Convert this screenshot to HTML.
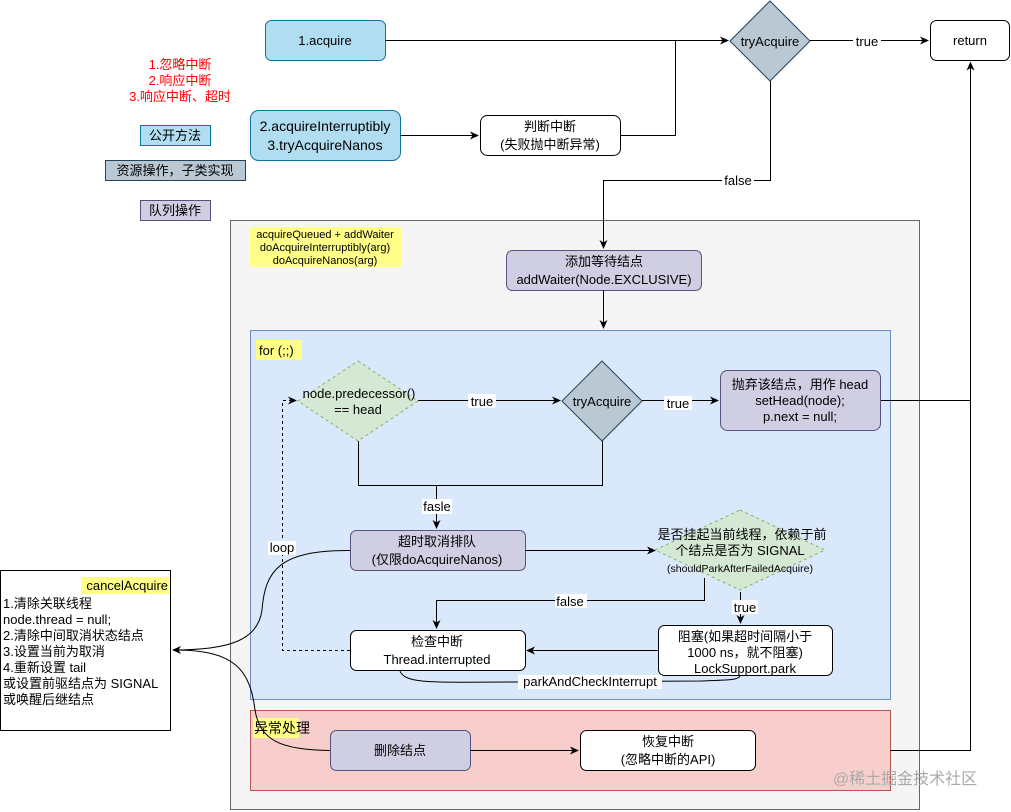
<!DOCTYPE html>
<html><head><meta charset="utf-8">
<style>
html,body{margin:0;padding:0;background:#fff;}
svg{display:block;font-family:"Liberation Sans","Noto Sans CJK SC",sans-serif;}
text{font-size:13px;fill:#000;}
</style></head><body>
<svg width="1011" height="812" viewBox="0 0 1011 812" xmlns="http://www.w3.org/2000/svg">
<defs>
<marker id="a" markerWidth="10" markerHeight="10" refX="8" refY="5" orient="auto" markerUnits="userSpaceOnUse">
<path d="M0,1 L9,5 L0,9 L2.5,5 Z" fill="#000"/></marker>
</defs>
<rect width="1011" height="812" fill="#fff"/>

<!-- containers -->
<rect x="230.5" y="220.5" width="689" height="589" fill="#f5f5f5" stroke="#666"/>
<rect x="250.5" y="330.5" width="640" height="369" fill="#dae8fc" stroke="#6c8ebf"/>
<rect x="250.5" y="710.5" width="640" height="80" fill="#f8cecc" stroke="#b85450"/>

<!-- legend -->
<g text-anchor="middle">
<text x="180" y="69" fill="#f00" style="fill:#ff0000">1.忽略中断</text>
<text x="180" y="85" style="fill:#ff0000">2.响应中断</text>
<text x="180" y="101" style="fill:#ff0000">3.响应中断、超时</text>
</g>
<rect x="140.5" y="125.5" width="70" height="20" fill="#b1ddf0" stroke="#10739e"/>
<text x="175" y="140" text-anchor="middle">公开方法</text>
<rect x="105.5" y="160.5" width="140" height="20" fill="#bac8d3" stroke="#23445d"/>
<text x="175" y="175" text-anchor="middle">资源操作，子类实现</text>
<rect x="140.5" y="200.5" width="70" height="20" fill="#d0cee2" stroke="#56517e"/>
<text x="175" y="215" text-anchor="middle">队列操作</text>

<!-- top boxes -->
<rect x="265.5" y="20.5" width="120" height="40" rx="6" fill="#b1ddf0" stroke="#10739e"/>
<text x="325" y="45" text-anchor="middle">1.acquire</text>
<rect x="250.5" y="110.5" width="150" height="50" rx="8" fill="#b1ddf0" stroke="#10739e"/>
<text x="325" y="131" text-anchor="middle" style="font-size:14px">2.acquireInterruptibly</text>
<text x="325" y="150" text-anchor="middle" style="font-size:14px">3.tryAcquireNanos</text>
<rect x="480.5" y="115.5" width="140" height="40" rx="7" fill="#fff" stroke="#000"/>
<text x="550" y="131" text-anchor="middle">判断中断</text>
<text x="550" y="149" text-anchor="middle">(失败抛中断异常)</text>

<polygon points="770,1 810,41 770,81 730,41" fill="#bac8d3" stroke="#23445d"/>
<text x="770" y="46" text-anchor="middle">tryAcquire</text>
<rect x="930.5" y="20.5" width="79" height="40" rx="6" fill="#fff" stroke="#000"/>
<text x="970" y="45" text-anchor="middle">return</text>

<!-- top connectors -->
<path d="M385.5,40.5 H728" fill="none" stroke="#000" marker-end="url(#a)"/>
<path d="M620.5,135.5 H675.5 V40.5" fill="none" stroke="#000"/>
<path d="M400.5,135.5 H478" fill="none" stroke="#000" marker-end="url(#a)"/>
<path d="M810,40.5 H928" fill="none" stroke="#000" marker-end="url(#a)"/>
<rect x="853" y="34" width="28" height="14" fill="#fff"/>
<text x="867" y="46" text-anchor="middle">true</text>
<path d="M770.5,81 V180.5 H603.5 V248" fill="none" stroke="#000" marker-end="url(#a)"/>
<rect x="722" y="173" width="32" height="14" fill="#fff"/>
<text x="738" y="185" text-anchor="middle">false</text>
<path d="M970.5,400.5 V62.5" fill="none" stroke="#000" marker-end="url(#a)"/>
<path d="M880.5,400.5 H970.5 M890.5,750.5 H970.5 V400" fill="none" stroke="#000"/>

<!-- yellow label -->
<rect x="250" y="227" width="151" height="40" fill="#ffff88"/>
<text x="325" y="238" text-anchor="middle" style="font-size:11px">acquireQueued + addWaiter</text>
<text x="325" y="251" text-anchor="middle" style="font-size:11px">doAcquireInterruptibly(arg)</text>
<text x="325" y="264" text-anchor="middle" style="font-size:11px">doAcquireNanos(arg)</text>

<rect x="506.5" y="250.5" width="195" height="40" rx="6" fill="#d0cee2" stroke="#56517e"/>
<text x="604" y="266" text-anchor="middle">添加等待结点</text>
<text x="604" y="284" text-anchor="middle">addWaiter(Node.EXCLUSIVE)</text>
<path d="M603.5,290.5 V328" fill="none" stroke="#000" marker-end="url(#a)"/>

<!-- for loop -->
<rect x="256" y="340" width="46" height="20" fill="#ffff88"/>
<text x="259" y="355">for (;;)</text>

<polygon points="358,361 418,401 358,441 298,401" fill="#d5e8d4" stroke="#82b366" stroke-dasharray="3,3"/>
<text x="359" y="398" text-anchor="middle">node.predecessor()</text>
<text x="358" y="414" text-anchor="middle">== head</text>
<polygon points="602,361 642,401 602,441 562,401" fill="#bac8d3" stroke="#23445d"/>
<text x="602" y="406" text-anchor="middle">tryAcquire</text>
<rect x="720.5" y="370.5" width="160" height="60" rx="7" fill="#d0cee2" stroke="#56517e"/>
<text x="800" y="389" text-anchor="middle">抛弃该结点，用作 head</text>
<text x="800" y="405" text-anchor="middle">setHead(node);</text>
<text x="800" y="421" text-anchor="middle">p.next = null;</text>

<path d="M418,400.5 H560" fill="none" stroke="#000" marker-end="url(#a)"/>
<rect x="468" y="394" width="28" height="14" fill="#fff"/>
<text x="482" y="406" text-anchor="middle">true</text>
<path d="M642,400.5 H718" fill="none" stroke="#000" marker-end="url(#a)"/>
<rect x="664" y="396" width="28" height="14" fill="#fff"/>
<text x="678" y="408" text-anchor="middle">true</text>

<path d="M358.5,441 V485.5 H602.5 V441 M436.5,485.5 V528" fill="none" stroke="#000" marker-end="url(#a)"/>
<rect x="422" y="499" width="30" height="15" fill="#fff"/>
<text x="437" y="511" text-anchor="middle">fasle</text>

<rect x="350.5" y="530.5" width="175" height="40" rx="6" fill="#d0cee2" stroke="#56517e"/>
<text x="437" y="546" text-anchor="middle">超时取消排队</text>
<text x="437" y="564" text-anchor="middle">(仅限doAcquireNanos)</text>

<polygon points="740,510 825,550 740,590 655,550" fill="#d5e8d4" stroke="#82b366" stroke-dasharray="3,3"/>
<text x="742" y="539" text-anchor="middle">是否挂起当前线程，依赖于前</text>
<text x="740" y="555" text-anchor="middle">个结点是否为 SIGNAL</text>
<text x="740" y="572" text-anchor="middle" style="font-size:10.5px">(shouldParkAfterFailedAcquire)</text>
<path d="M525.5,550.5 H655" fill="none" stroke="#000" marker-end="url(#a)"/>

<path d="M704.5,578 V600.5 H436.5 V628" fill="none" stroke="#000" marker-end="url(#a)"/>
<rect x="555" y="594" width="32" height="14" fill="#fff"/>
<text x="570" y="606" text-anchor="middle">false</text>
<path d="M740.5,592 V623" fill="none" stroke="#000" marker-end="url(#a)"/>
<rect x="730" y="600" width="30" height="14" fill="#dae8fc"/>
<rect x="732" y="600" width="26" height="14" fill="#fff"/>
<text x="745" y="612" text-anchor="middle">true</text>

<rect x="658.5" y="625.5" width="174" height="50" rx="6" fill="#fff" stroke="#000"/>
<text x="745" y="641" text-anchor="middle">阻塞(如果超时间隔小于</text>
<text x="745" y="657" text-anchor="middle">1000 ns，就不阻塞)</text>
<text x="745" y="673" text-anchor="middle">LockSupport.park</text>

<rect x="350.5" y="630.5" width="175" height="40" rx="6" fill="#fff" stroke="#000"/>
<text x="437" y="646" text-anchor="middle">检查中断</text>
<text x="437" y="664" text-anchor="middle">Thread.interrupted</text>
<path d="M658,650.5 H527" fill="none" stroke="#000" marker-end="url(#a)"/>
<path d="M400,671 C405,685 440,682 520,682 L700,681 C730,680 738,680 740,676" fill="none" stroke="#000"/>
<rect x="518" y="675" width="144" height="14" fill="#fff"/>
<text x="590" y="686" text-anchor="middle">parkAndCheckInterrupt</text>

<path d="M350,650.5 H282.5 V400.5 H296" fill="none" stroke="#000" stroke-dasharray="3,3" marker-end="url(#a)"/>
<rect x="268" y="541" width="28" height="14" fill="#fff"/>
<text x="282" y="552" text-anchor="middle">loop</text>

<!-- exception -->
<rect x="253" y="718" width="46" height="20" fill="#ffff88"/>
<text x="254" y="733" style="font-size:14px">异常处理</text>
<rect x="330.5" y="730.5" width="140" height="40" rx="6" fill="#d0cee2" stroke="#56517e"/>
<text x="400" y="755" text-anchor="middle">删除结点</text>
<rect x="580.5" y="730.5" width="175" height="40" rx="6" fill="#fff" stroke="#000"/>
<text x="668" y="746" text-anchor="middle">恢复中断</text>
<text x="668" y="764" text-anchor="middle">(忽略中断的API)</text>
<path d="M470.5,750.5 H578" fill="none" stroke="#000" marker-end="url(#a)"/>

<!-- cancelAcquire -->
<rect x="0.5" y="570.5" width="170" height="160" fill="#fff" stroke="#000"/>
<rect x="81" y="577" width="89" height="17" fill="#ffff88"/>
<text x="168" y="590" text-anchor="end">cancelAcquire</text>
<text x="3" y="608">1.清除关联线程</text>
<text x="3" y="624">node.thread = null;</text>
<text x="3" y="640">2.清除中间取消状态结点</text>
<text x="3" y="656">3.设置当前为取消</text>
<text x="3" y="672">4.重新设置 tail</text>
<text x="3" y="688">或设置前驱结点为 SIGNAL</text>
<text x="3" y="704">或唤醒后继结点</text>
<path d="M350,550.5 C280,550 265,570 262,610 C258,640 230,650 173,650" fill="none" stroke="#000" marker-end="url(#a)"/>
<path d="M330,750.5 C280,750 260,740 255,710 C250,670 235,650 175,650" fill="none" stroke="#000"/>

<text x="905" y="784" text-anchor="middle" style="font-size:16px;fill:#aaa">@稀土掘金技术社区</text>
</svg>
</body></html>
